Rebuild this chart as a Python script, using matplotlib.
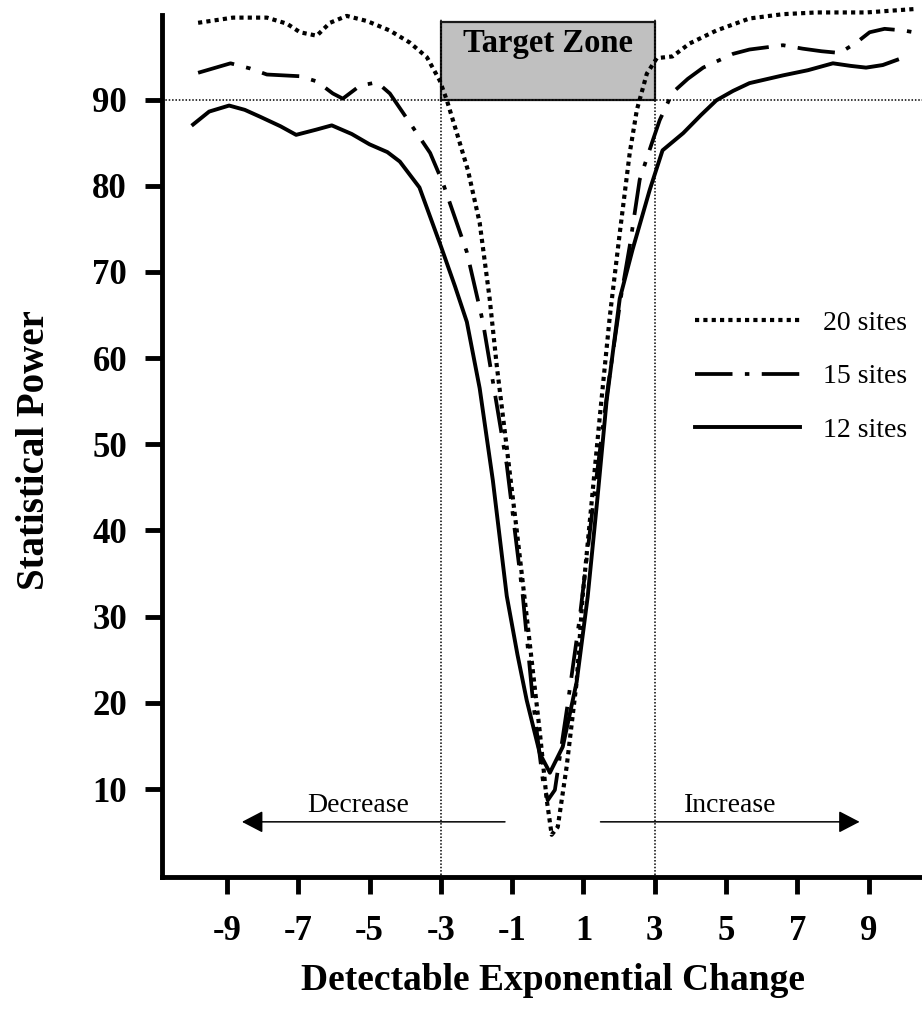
import matplotlib.pyplot as plt
from matplotlib.patches import Rectangle

# curves: (change, power)
x20 = [-9.81, -8.83, -7.88, -7.32, -6.95, -6.48, -6.11, -5.64, -5.07, -4.43, -3.87, -3.39,
       -3.03, -2.83, -2.55, -2.24, -1.91, -1.63, -1.43, -1.15, -0.87, -0.59, -0.22, -0.03,
       0.11, 0.28, 0.53, 0.81, 0.98, 1.46, 1.74, 2.02, 2.3, 2.5, 2.78, 3.06, 3.5, 3.98,
       4.73, 5.66, 6.6, 7.54, 8.94, 10.3]
y20 = [98.9, 99.5, 99.5, 98.8, 97.8, 97.4, 98.9, 99.7, 99.1, 98.0, 96.6, 94.9,
       92.2, 89.9, 86.1, 81.8, 75.7, 66.9, 59.1, 49.6, 40.0, 30.0, 16.5, 8.8,
       4.7, 5.6, 12.6, 22.4, 32.4, 53.2, 64.8, 74.5, 83.8, 88.8, 93.0, 94.8, 95.0, 96.5,
       98.0, 99.4, 99.9, 100.1, 100.1, 100.5]

x15 = [-9.81, -8.9, -8.35, -7.88, -6.95, -6.48, -6.03, -5.75, -5.27, -4.79, -4.43, -3.87,
       -3.3, -2.94, -2.27, -1.82, -1.54, -1.15, -0.7, -0.42, -0.14, 0.0, 0.2, 0.55, 0.9,
       1.3, 1.7, 2.05, 2.3, 2.58, 2.95, 3.14, 3.5, 3.93, 4.36, 5.2, 5.66, 6.6, 7.15, 7.68,
       8.19, 8.66, 9.03, 9.45, 10.0, 10.4]
y15 = [93.1, 94.2, 93.6, 92.9, 92.7, 92.1, 90.7, 90.1, 91.6, 92.0, 90.7, 87.3,
       83.8, 80.3, 72.3, 64.2, 57.3, 47.6, 32.4, 20.4, 11.1, 8.7, 9.9, 19.6, 30.0,
       44.0, 57.0, 67.0, 73.0, 80.7, 85.3, 87.6, 90.8, 92.4, 93.7, 95.3, 95.8, 96.3, 95.9, 95.6,
       95.4, 96.6, 97.8, 98.2, 98.0, 97.7]

x12 = [-9.95, -9.5, -8.94, -8.5, -8.07, -7.5, -7.06, -6.5, -6.06, -5.5, -5.0, -4.5,
       -4.15, -3.6, -3.0, -2.6, -2.27, -1.91, -1.54, -1.15, -0.85, -0.59, -0.22, 0.06,
       0.42, 0.81, 1.12, 1.4, 1.65, 2.02, 2.38, 2.86, 3.22, 3.8, 4.3, 4.73, 5.2, 5.66,
       6.6, 7.3, 8.0, 8.5, 8.93, 9.4, 9.8]
y12 = [87.1, 88.6, 89.3, 88.8, 88.0, 86.9, 85.9, 86.5, 87.0, 86.0, 84.8, 83.9,
       82.8, 79.8, 73.0, 68.3, 64.2, 56.5, 45.8, 32.4, 25.6, 20.3, 14.1, 11.9,
       14.9, 22.4, 32.3, 44.0, 55.0, 66.9, 72.6, 79.5, 84.1, 86.1, 88.2, 89.9, 91.0, 91.9,
       92.8, 93.4, 94.2, 93.9, 93.7, 94.0, 94.6]

labels = ["20 sites", "15 sites", "12 sites"]
xticks = [-9, -7, -5, -3, -1, 1, 3, 5, 7, 9]
yticks = [10, 20, 30, 40, 50, 60, 70, 80, 90]
target_low, target_high = 90, 99
zone_left, zone_right = -3, 3

serif = "Liberation Serif"

fig = plt.figure(figsize=(9.22, 10.16), dpi=100)
ax = fig.add_axes([0.1762, 0.1368, 0.8238, 0.8484])

# target zone box and guide lines
ax.add_patch(Rectangle((zone_left, target_low), zone_right - zone_left, target_high - target_low,
                       facecolor="#c0c0c0", edgecolor="#1a1a1a", lw=1.6, zorder=1))
ax.text(0, 95.5, "Target Zone", ha="center", va="baseline", fontsize=23.5,
        fontweight="bold", family=serif, zorder=2)
ax.axhline(target_low, color="black", lw=1.1, ls=(0, (1, 1.2)), zorder=1.5)
for xv in [zone_left, zone_right]:
    ax.plot([xv, xv], [0, 99.5], color="black", lw=1.1, ls=(0, (1, 1.2)), zorder=1.5)

l20, = ax.plot(x20, y20, color="black", lw=3.0, ls=(0, (1, 1)),
               dash_capstyle="butt", clip_on=False, zorder=3)
l15, = ax.plot(x15, y15, color="black", lw=2.7, ls=(0, (10, 3.3, 1.2, 3.3)),
               dash_capstyle="butt", clip_on=False, zorder=3)
l12, = ax.plot(x12, y12, color="black", lw=2.8, clip_on=False, zorder=3)

# direction arrows
arrow = dict(arrowstyle="-|>,head_length=1,head_width=0.52", mutation_scale=13,
             color="black", lw=1.1, shrinkA=0, shrinkB=0)
ax.annotate("", xy=(-8.58, 6.2), xytext=(-1.2, 6.2), arrowprops=arrow)
ax.annotate("", xy=(8.75, 6.2), xytext=(1.48, 6.2), arrowprops=arrow)
ax.text(-5.33, 7.3, "Decrease", ha="center", va="baseline", fontsize=20, family=serif)
ax.text(5.13, 7.3, "Increase", ha="center", va="baseline", fontsize=20, family=serif)

leg = ax.legend([l20, l15, l12], labels, loc="upper left", bbox_to_anchor=(0.701, 0.657),
                frameon=False, handlelength=3.8, handletextpad=0.8, labelspacing=1.0,
                borderpad=0, borderaxespad=0, prop={"family": serif, "size": 20})

ax.set_xlim(-10.81, 10.5)
ax.set_ylim(-0.2, 99.8)
ax.set_xticks(xticks)
ax.set_yticks(yticks)
ax.set_xticklabels([str(v) for v in xticks], fontsize=25, fontweight="bold", family=serif)
ax.set_yticklabels([str(v) for v in yticks], fontsize=25, fontweight="bold", family=serif)
ax.tick_params(axis="x", direction="out", length=12, width=3.5, pad=15)
ax.tick_params(axis="y", direction="out", length=12.5, width=3.5, pad=13)

for s in ["top", "right"]:
    ax.spines[s].set_visible(False)
for s in ["left", "bottom"]:
    ax.spines[s].set_linewidth(3.5)

ax.set_xlabel("Detectable Exponential Change", fontsize=27, fontweight="bold", family=serif)
ax.xaxis.set_label_coords(0.514, -0.12)
ax.xaxis.label.set_va("center")
ax.set_ylabel("Statistical Power", fontsize=28, fontweight="bold", family=serif)
ax.yaxis.set_label_coords(-0.168, 0.495)
ax.yaxis.label.set_va("center")

fig.savefig("out.png", dpi=100)
